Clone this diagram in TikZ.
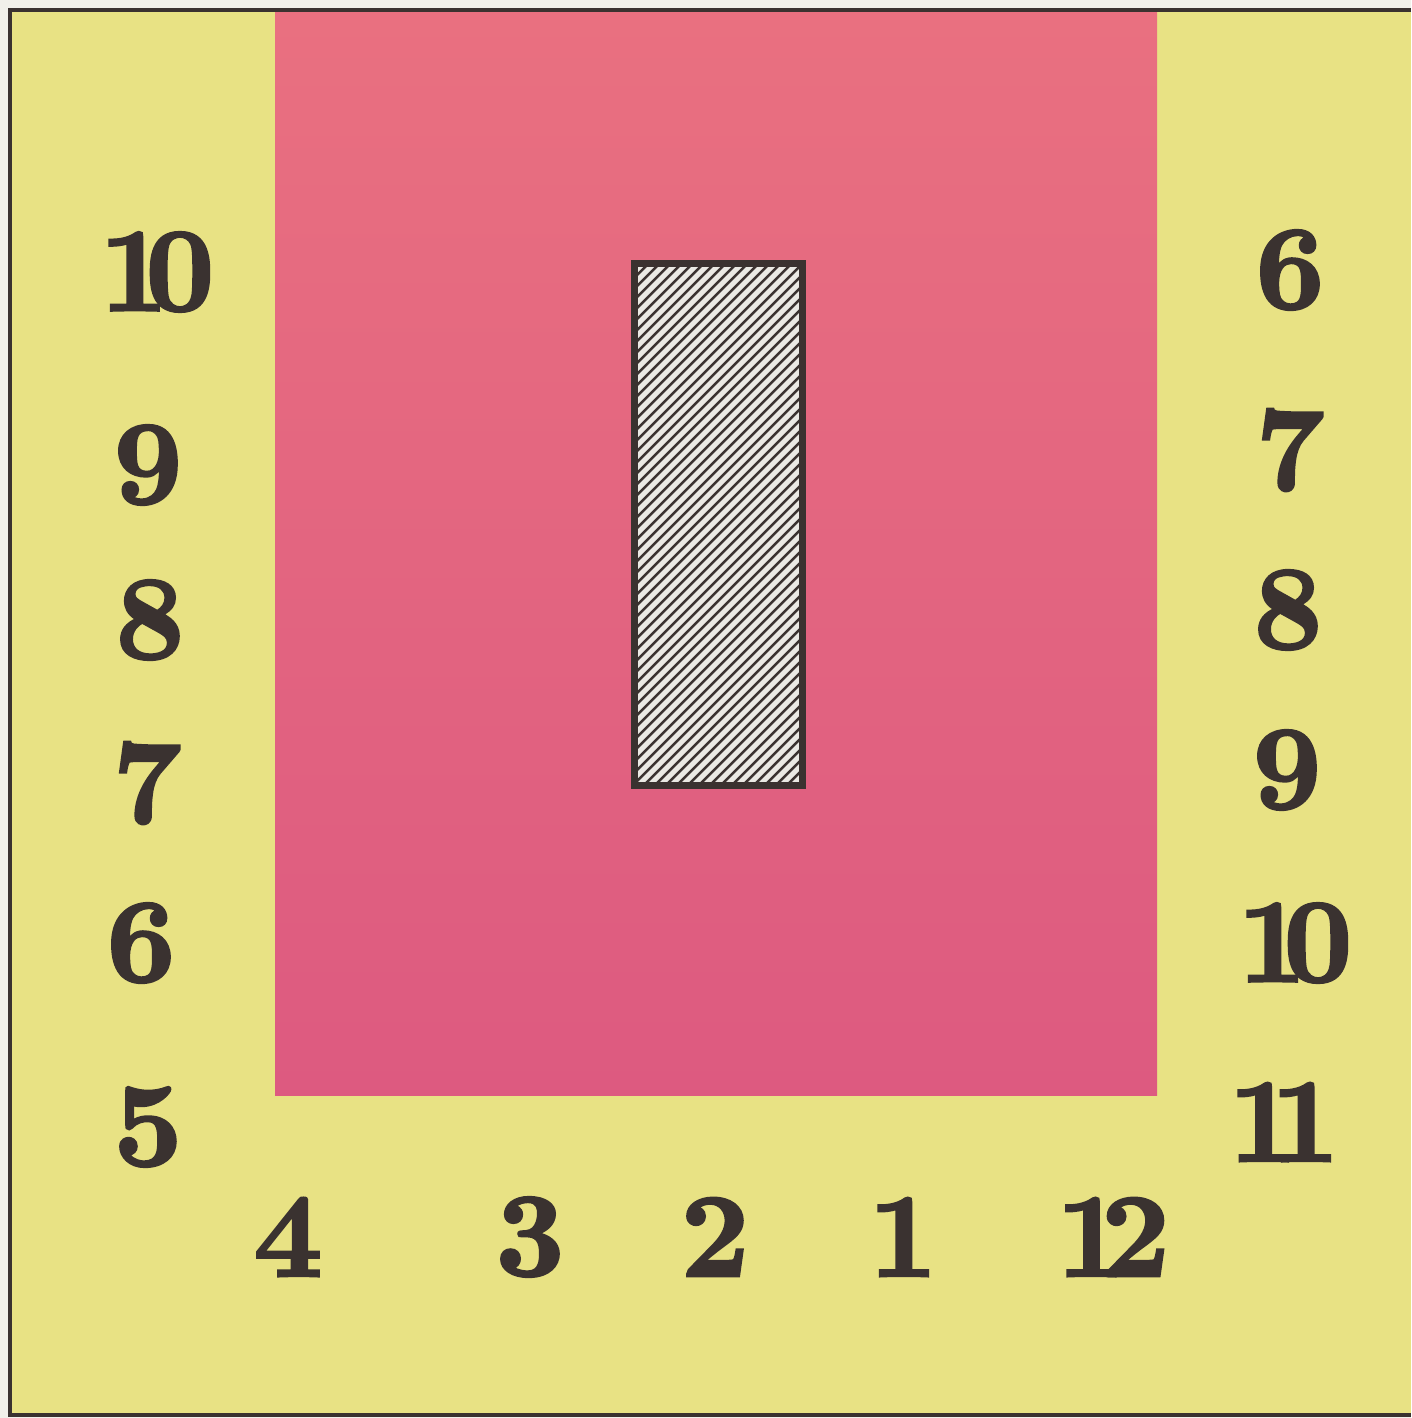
\documentclass[tikz,border=0pt]{standalone}
\usepackage{fontspec}
\newfontfamily\hourfont[FakeBold=2.2]{lmroman10-bold.otf}
\usetikzlibrary{positioning}
\definecolor{paperwhite}{RGB}{241,240,234}
\definecolor{dialyellow}{RGB}{232,226,132}
\definecolor{dialpinktop}{RGB}{233,112,128}
\definecolor{dialpinkbot}{RGB}{221,90,128}
\definecolor{inkdark}{RGB}{58,50,48}
\definecolor{slotwhite}{RGB}{234,233,228}
\tikzset{
  hour label/.style={
    text=inkdark, inner sep=0pt,
    font=\hourfont\fontsize{34}{34}\selectfont
  },
  slot box/.style={
    rectangle, draw=inkdark, line width=1.4pt, fill=slotwhite,
    minimum width=1.65cm, minimum height=5.19cm, inner sep=0pt
  },
  slot line/.style={inkdark, line width=0.7pt}
}

\begin{document}
\begin{tikzpicture}[x=0.01cm, y=-0.01cm]
    \useasboundingbox (0,0) rectangle (1411,1418);
    \fill[paperwhite] (0,0) rectangle (1411,1418);
    \fill[dialyellow] (10,10) rectangle (1411,1415);
    \draw[inkdark, line width=1.1pt] (1411,10) -- (10,10) -- (10,1415) -- (1411,1415);
    \shade[top color=dialpinktop, bottom color=dialpinkbot] (275,12) rectangle (1157,1095);
    % hatched slot
    \node[slot box] (slot) at (718.5,524.5) {};
    \begin{scope}
      \clip (slot.south west) rectangle (slot.north east);
      \foreach \c in {901,912,...,1597}
        \draw[slot line] (\c-250,250) -- (\c-800,800);
    \end{scope}
    \draw[inkdark, line width=1.4pt] (slot.south west) rectangle (slot.north east);
    % left column
    \node[hour label] (left10) at (157,272) {1\kern-.19em0};
    \node[hour label] (left9) at (148,465) {9};
    \node[hour label] (left8) at (150,620) {8};
    \node[hour label] (left7) at (147,783) {7};
    \node[hour label] (left6) at (141,943) {6};
    \node[hour label] (left5) at (148,1127) {5};
    % right column
    \node[hour label] (right6) at (1290,270) {6};
    \node[hour label] (right7) at (1290,450) {7};
    \node[hour label] (right8) at (1288,610) {8};
    \node[hour label] (right9) at (1287,770) {9};
    \node[hour label] (right10) at (1295,943) {1\kern-.19em0};
    \node[hour label] (right11) at (1284,1122) {1\kern-.22em1};
    % bottom row
    \node[hour label] (bottom4) at (288,1237) {4};
    \node[hour label] (bottom3) at (530,1237) {3};
    \node[hour label] (bottom2) at (715,1237) {2};
    \node[hour label] (bottom1) at (903,1237) {1};
    \node[hour label] (bottom12) at (1113,1237) {1\kern-.2em2};
\end{tikzpicture}
\end{document}
